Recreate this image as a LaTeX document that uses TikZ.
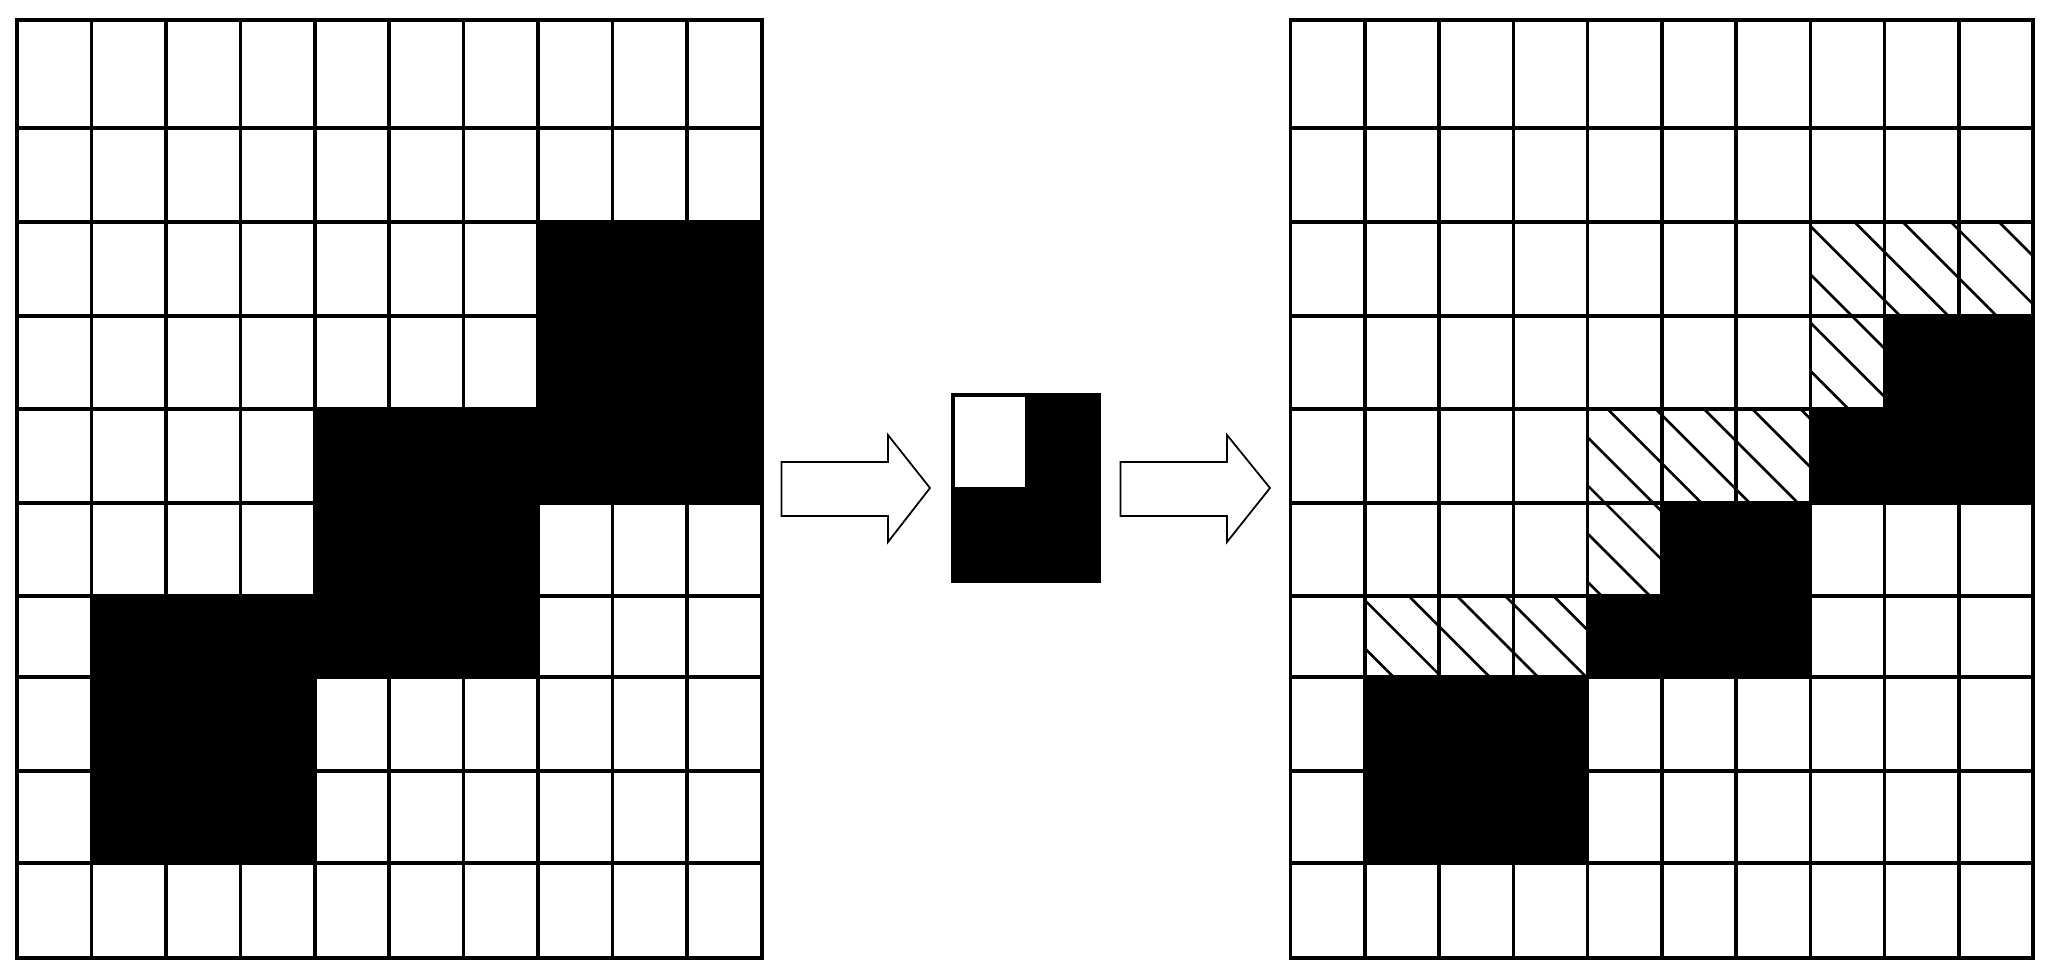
\documentclass[tikz,border=0pt]{standalone}
\usetikzlibrary{patterns.meta}
\begin{document}
\begin{tikzpicture}[x=0.1mm,y=-0.1mm,
  gridline/.style={line width=1pt},
  removed/.style={pattern={Lines[angle=-45,distance=9.7pt,line width=0.75pt]}},
  blockarrow/.style={draw,line width=0.5pt,fill=white}]
\useasboundingbox (0,0) rectangle (2049,971);
% input image
\fill (538.2,222) -- (762,222) -- (762,503) -- (538.2,503) -- (538.2,677) -- (314.8,677) -- (314.8,863) -- (91.5,863) -- (91.5,596) -- (314.8,596) -- (314.8,409) -- (538.2,409) -- cycle;
\foreach \y in {128,222,316,409,503,596,677,771,863}
  \draw[gridline] (17,\y) -- (762,\y);
\foreach \i in {1,...,9}
  \draw[gridline] (17+74.45*\i,20) -- (17+74.45*\i,958);
\draw[gridline] (17,20) rectangle (762,958);
% arrows and structuring element
\draw[blockarrow] (781.5,462) -- (888,462) -- (888,435) -- (930,488) -- (888,542) -- (888,516) -- (781.5,516) -- cycle;
\fill (951,393) rectangle (1101,583);
\fill[white] (955,397) rectangle (1025,487);
\draw[blockarrow] (1120.5,462) -- (1227,462) -- (1227,435) -- (1270,488) -- (1227,542) -- (1227,516) -- (1120.5,516) -- cycle;
% output image
\fill[removed] (1810.3,222) rectangle (2033,316);
\fill[removed] (1810.3,316) rectangle (1884.5,409);
\fill[removed] (1587.6,409) rectangle (1810.3,503);
\fill[removed] (1587.6,503) rectangle (1661.9,596);
\fill[removed] (1364.9,596) rectangle (1587.6,677);
\fill (1884.5,316) rectangle (2033,409);
\fill (1810.3,409) rectangle (2033,503);
\fill (1661.9,503) rectangle (1810.3,596);
\fill (1587.6,596) rectangle (1810.3,677);
\fill (1364.9,677) rectangle (1587.6,863);
\foreach \y in {128,222,316,409,503,596,677,771,863}
  \draw[gridline] (1290.7,\y) -- (2033,\y);
\foreach \i in {1,...,9}
  \draw[gridline] (1290.7+74.23*\i,20) -- (1290.7+74.23*\i,958);
\draw[gridline] (1290.7,20) rectangle (2033,958);
\end{tikzpicture}
\end{document}
